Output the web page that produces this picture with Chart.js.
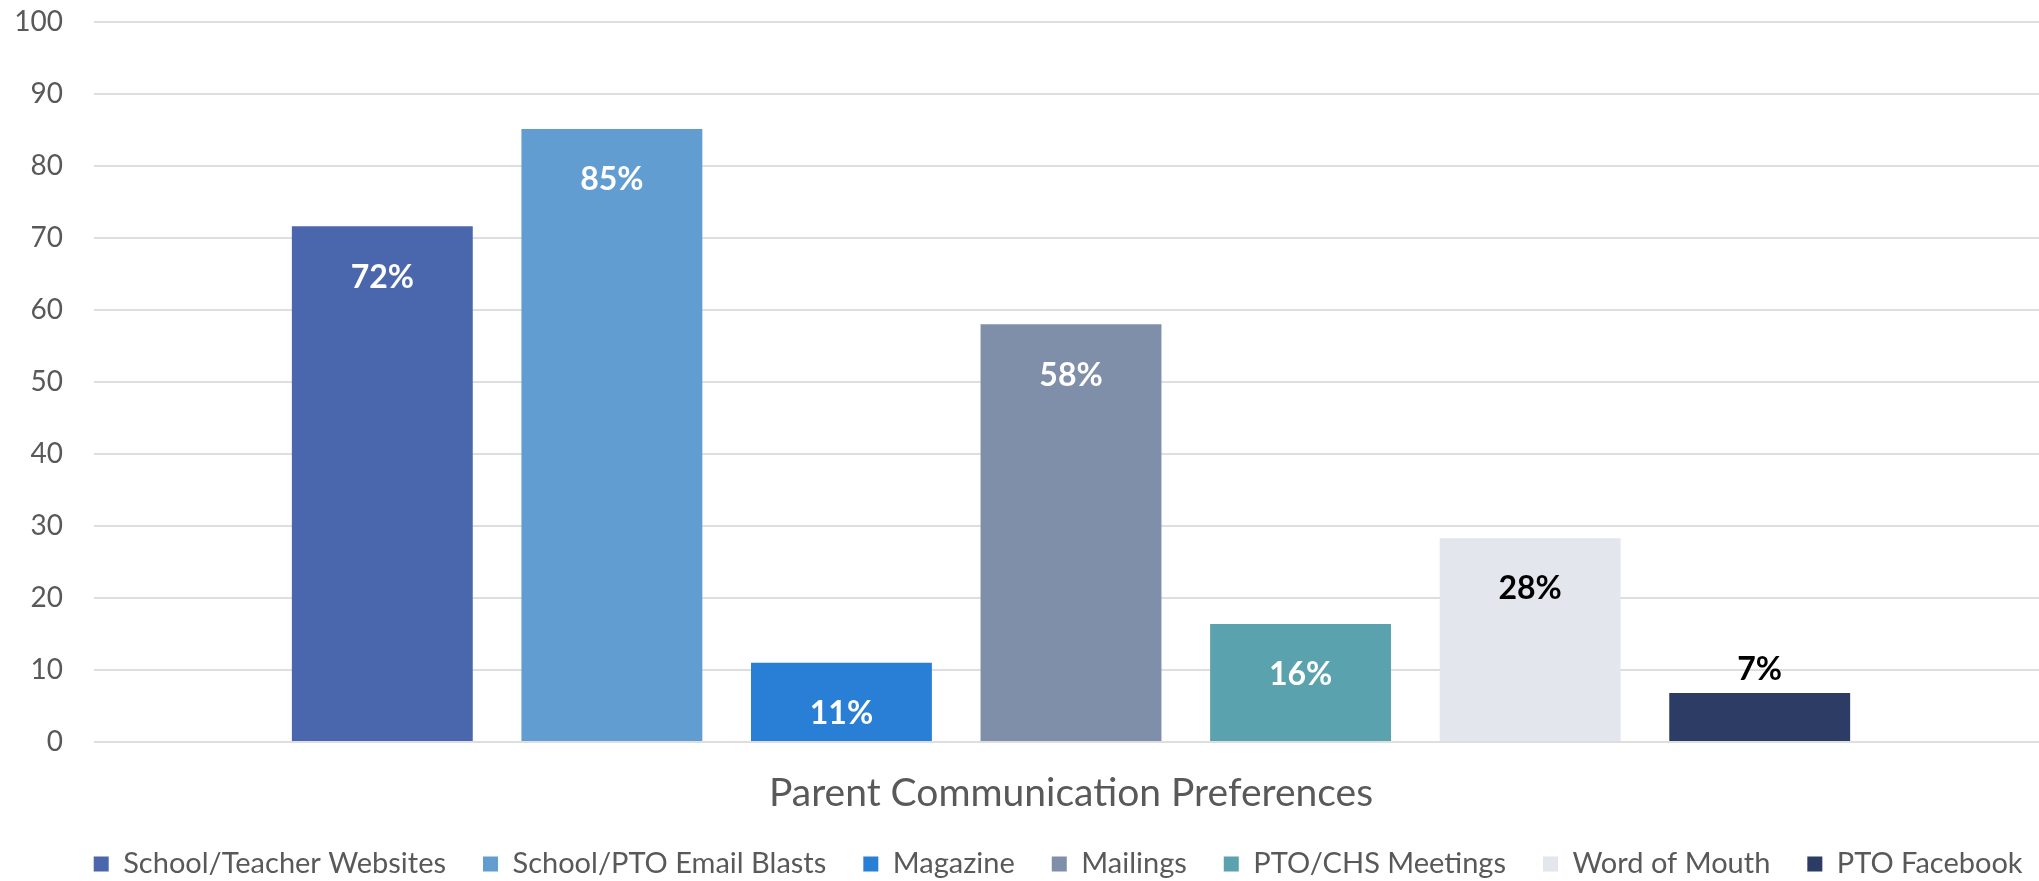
<!DOCTYPE html>
<html>
<head>
<meta charset="utf-8">
<script src="https://cdn.jsdelivr.net/npm/chart.js@4.4.0/dist/chart.umd.min.js"></script>
<style>
html,body{margin:0;padding:0;background:#ffffff;overflow:hidden}
#wrap{width:2039px;height:881px;position:relative;overflow:hidden}
</style>
</head>
<body>
<div id="wrap"><canvas id="c" width="2048" height="881"></canvas></div>
<script>
const categories = ['Parent Communication Preferences'];
const seriesNames = ['School/Teacher Websites', 'School/PTO Email Blasts', 'Magazine', 'Mailings', 'PTO/CHS Meetings', 'Word of Mouth', 'PTO Facebook'];
const seriesValues = [71.6, 85.1, 11.0, 58.0, 16.4, 28.3, 6.8];
const seriesColors = ['#4a66ac', '#629dd1', '#297fd5', '#7f8fa9', '#5aa2ae', '#e3e6ec', '#2c3c64'];
const labelColors = ['#ffffff', '#ffffff', '#ffffff', '#ffffff', '#ffffff', '#000000', '#000000'];
const yTickValues = [0, 10, 20, 30, 40, 50, 60, 70, 80, 90, 100];

const FONT = 'Lato, "Open Sans", sans-serif';

const datasets = seriesNames.map((name, i) => ({
  label: name,
  data: [seriesValues[i]],
  backgroundColor: seriesColors[i],
  borderWidth: 0,
  categoryPercentage: 0.8224,
  barPercentage: 0.788
}));

const valueLabelPlugin = {
  id: 'valueLabels',
  afterDatasetsDraw(chart) {
    const ctx = chart.ctx;
    ctx.save();
    ctx.font = 'bold 32px ' + FONT;
    ctx.textAlign = 'center';
    ctx.textBaseline = 'middle';
    chart.data.datasets.forEach((ds, i) => {
      const meta = chart.getDatasetMeta(i);
      meta.data.forEach((bar, j) => {
        const v = ds.data[j];
        const txt = Math.round(v) + '%';
        const h = bar.base - bar.y;
        if (h > 70) {
          ctx.fillStyle = labelColors[i];
          ctx.fillText(txt, bar.x, bar.y + 51);
        } else {
          ctx.fillStyle = '#000000';
          ctx.fillText(txt, bar.x, bar.y - 23);
        }
      });
    });
    ctx.restore();
  }
};

// nudge the legend row to the reference position
const legendPlace = {
  id: 'legendPlace',
  afterLayout(chart) {
    const lg = chart.legend;
    lg.left += 29.5;
    lg.right += 29.5;
    lg.top -= 3.9;
    lg.bottom = chart.height;
    lg.height = lg.bottom - lg.top;
  }
};

new Chart(document.getElementById('c'), {
  type: 'bar',
  data: { labels: categories, datasets: datasets },
  options: {
    responsive: false,
    animation: false,
    devicePixelRatio: 1,
    layout: { padding: { left: 9.3, right: 0, top: 0, bottom: 0 } },
    plugins: {
      tooltip: { enabled: false },
      legend: {
        position: 'bottom',
        maxHeight: 64.6,
        labels: {
          boxWidth: 15,
          boxHeight: 15,
          padding: 37,
          color: '#595959',
          font: { family: FONT, size: 29 }
        }
      }
    },
    scales: {
      x: {
        grid: { display: false, drawTicks: true, tickLength: 27.6, tickColor: 'rgba(0,0,0,0)' },
        border: { display: false },
        ticks: { color: '#595959', font: { family: FONT, size: 39 }, padding: 0 }
      },
      y: {
        min: 0,
        max: 100,
        afterBuildTicks(axis) { axis.ticks = yTickValues.map(v => ({ value: v })); },
        grid: { color: '#dedede', lineWidth: 2, drawTicks: true, tickLength: 26, tickColor: 'rgba(0,0,0,0)' },
        border: { display: false },
        ticks: { color: '#595959', font: { family: FONT, size: 28 }, padding: 5 }
      }
    }
  },
  plugins: [valueLabelPlugin, legendPlace]
});
</script>
</body>
</html>
